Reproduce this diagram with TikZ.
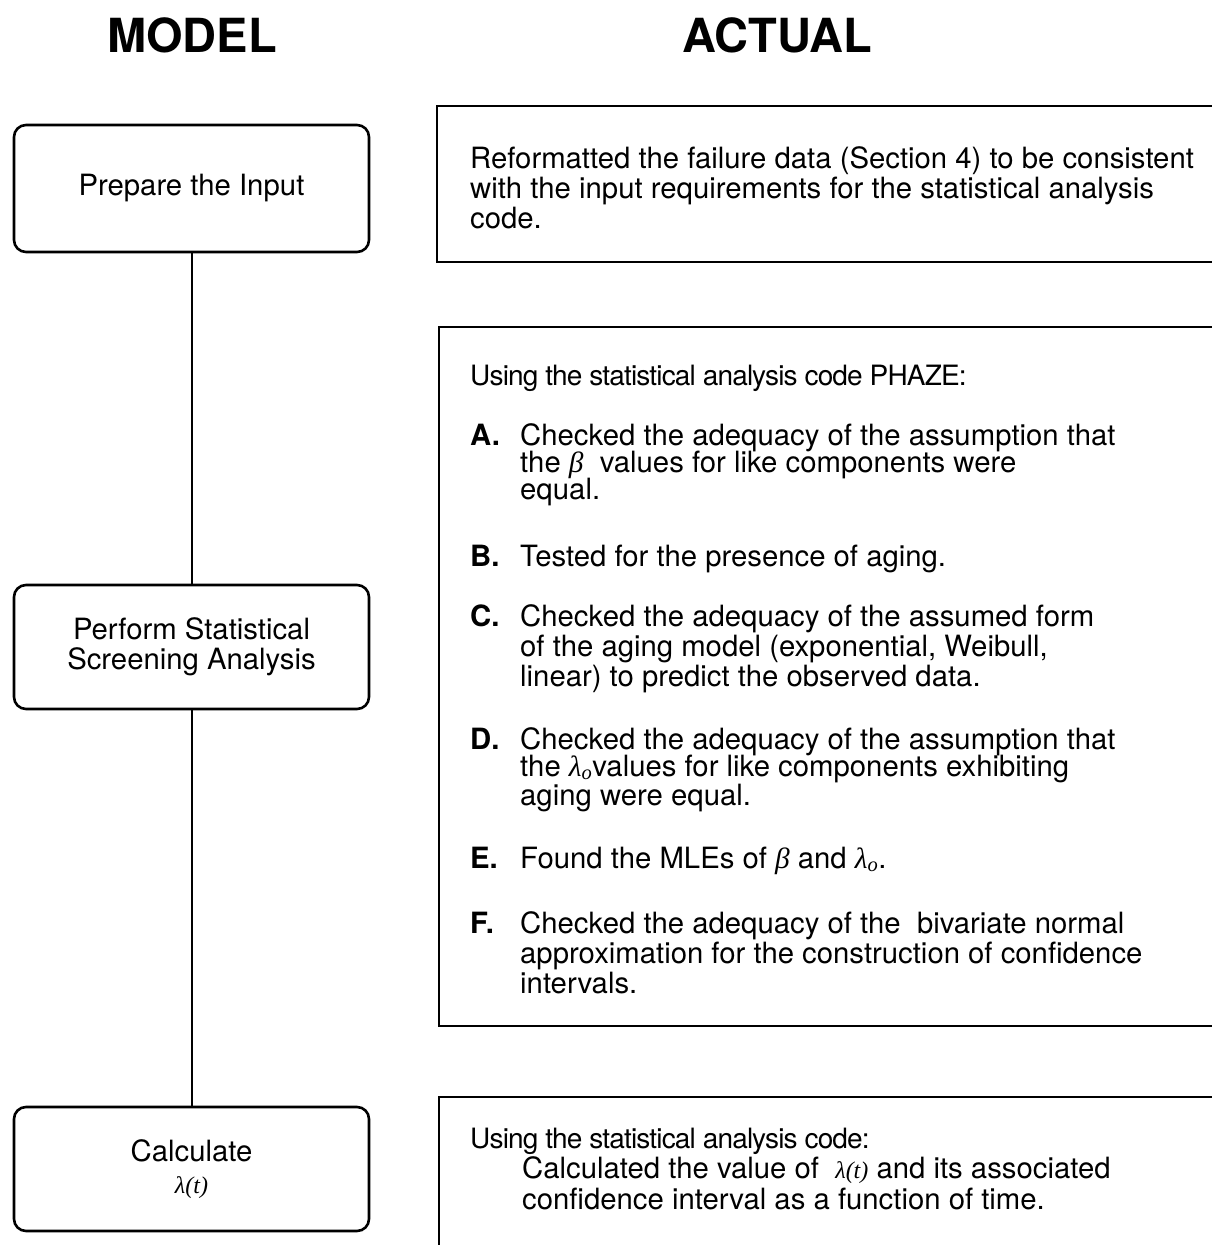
\documentclass[tikz,border=0pt]{standalone}
\usepackage{fontspec}
\setmainfont{TeX Gyre Heros}
\newfontfamily\grkfont{Liberation Serif}
\newcommand{\gbeta}{{\grkfont\itshape β}}
\newcommand{\glamo}{{\grkfont\itshape λ\textsubscript{o}}}
\newcommand{\glamt}{{\grkfont\itshape\fontsize{24}{24}\selectfont λ(t)}}
\begin{document}
\begin{tikzpicture}[x=1pt,y=-1pt,
  lbox/.style={draw, line width=2.6pt, rounded corners=12pt, minimum width=355pt, inner sep=0pt, align=center, font=\fontsize{29.3}{30}\selectfont},
  conn/.style={line width=2pt},
  rbox/.style={line width=2.6pt},
  txt/.style={anchor=base west, inner sep=0pt, font=\fontsize{29.3}{30}\selectfont},
  usetxt/.style={anchor=base west, inner sep=0pt, font=\fontsize{28}{30}\selectfont\addfontfeature{LetterSpace=-3}},
  lbl/.style={anchor=base west, inner sep=0pt, font=\fontsize{29.3}{30}\selectfont\bfseries},
  title/.style={anchor=base, inner sep=0pt, font=\fontsize{47}{50}\selectfont\bfseries}]
\useasboundingbox (0,0) rectangle (1212,1245);
% titles
\node[title] (tmodel) at (192,52) {MODEL};
\node[title] (tactual) at (777,52) {ACTUAL};
% left boxes
\node[lbox, minimum height=127pt] (m1) at (191.5,188.5) {Prepare the Input};
\node[lbox, minimum height=124pt] (m2) at (191.5,647) {Perform Statistical\\Screening Analysis};
\node[lbox, minimum height=124pt] (m3) at (191.5,1169) {Calculate\\[2pt]\glamt};
\draw[conn] (m1.south) -- (m2.north);
\draw[conn] (m2.south) -- (m3.north);
% right boxes
\draw[rbox] (1216,106) -- (437,106) -- (437,262) -- (1216,262);
\draw[rbox] (1216,327) -- (439,327) -- (439,1026) -- (1216,1026);
\draw[rbox] (1216,1097) -- (439,1097) -- (439,1250);
% box 1 text
\node[txt] (r1a) at (470,168) {Reformatted the failure data (Section 4) to be consistent};
\node[txt] (r1b) at (470,198) {with the input requirements for the statistical analysis};
\node[txt] (r1c) at (470,228) {code.};
% box 2 text
\node[usetxt] (r2) at (470,385) {Using the statistical analysis code PHAZE:};
\node[lbl] (la) at (470,445) {A.};
\node[txt] (a1) at (520,445) {Checked the adequacy of the assumption that};
\node[txt] (a2) at (520,472) {the \gbeta\ \ values for like components were};
\node[txt] (a3) at (520,499) {equal.};
\node[lbl] (lb) at (470,566) {B.};
\node[txt] (b1) at (520,566) {Tested for the presence of aging.};
\node[lbl] (lc) at (470,626) {C.};
\node[txt] (c1) at (520,626) {Checked the adequacy of the assumed form};
\node[txt] (c2) at (520,656) {of the aging model (exponential, Weibull,};
\node[txt] (c3) at (520,686) {linear) to predict the observed data.};
\node[lbl] (ld) at (470,749) {D.};
\node[txt] (d1) at (520,749) {Checked the adequacy of the assumption that};
\node[txt] (d2) at (520,776) {the \glamo values for like components exhibiting};
\node[txt] (d3) at (520,805) {aging were equal.};
\node[lbl] (le) at (470,868) {E.};
\node[txt] (e1) at (520,868) {Found the MLEs of \gbeta\ and \glamo.};
\node[lbl] (lf) at (470,933) {F.};
\node[txt] (f1) at (520,933) {Checked the adequacy of the\ \ bivariate normal};
\node[txt] (f2) at (520,963) {approximation for the construction of confidence};
\node[txt] (f3) at (520,993) {intervals.};
% box 3 text
\node[usetxt] (r3a) at (470,1148) {Using the statistical analysis code:};
\node[txt] (r3b) at (522,1178) {Calculated the value of\ \ \glamt\ and its associated};
\node[txt] (r3c) at (522,1209) {confidence interval as a function of time.};
\end{tikzpicture}
\end{document}
